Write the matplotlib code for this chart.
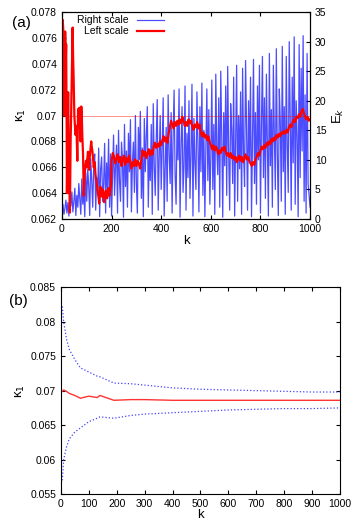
import numpy as np
import matplotlib
matplotlib.use("Agg")
import matplotlib.pyplot as plt

plt.rcParams['font.family'] = ['Liberation Sans', 'DejaVu Sans']

# ---- panel (a) data ----
# E_k (right scale), sampled every 4 steps
Ek_k = np.arange(0, 1001, 4)
Ek = [1.2, 2.5, 0.8, 1.8, 3.2, 1.0, 2.8, 0.5, 3.8, 2.2, 4.6, 1.2, 3.0, 5.2, 0.6, 4.0, 2.0, 6.0, 3.5, 0.8, 6.8, 2.5, 5.0, 0.4, 7.8,
      3.0, 8.5, 5.5, 0.6, 10.2, 6.5, 2.0, 9.0, 11.0, 1.5, 7.0, 4.5, 12.0, 0.4, 8.5, 10.5, 3.0, 6.0, 12.8, 1.0, 9.5, 5.0, 13.5, 2.0, 11.0,
      0.5, 7.5, 14.2, 4.0, 9.0, 12.5, 1.0, 15.0, 6.5, 3.0, 13.0, 10.0, 0.3, 16.0, 5.5, 11.5, 2.0, 14.5, 8.0, 16.8, 1.2, 9.5, 13.0, 4.5, 17.5,
      6.0, 1.0, 15.5, 10.0, 18.2, 3.5, 12.0, 0.4, 17.0, 8.0, 14.0, 19.0, 2.0, 11.0, 6.5, 16.0, 0.8, 19.5, 9.0, 4.0, 13.5, 20.2, 1.5, 10.5, 17.5,
      5.0, 12.0, 20.5, 0.5, 8.5, 15.5, 3.0, 21.0, 11.0, 6.0, 18.0, 1.0, 14.0, 21.8, 7.5, 2.5, 16.5, 10.0, 22.0, 0.3, 12.5, 19.0, 4.5, 9.0, 22.5,
      1.5, 14.5, 7.0, 20.0, 3.5, 11.0, 22.8, 0.5, 17.0, 9.5, 5.0, 21.5, 13.0, 1.2, 19.0, 8.0, 23.0, 4.0, 15.0, 0.4, 12.0, 22.0, 6.5, 18.5, 2.5,
      10.5, 23.5, 5.0, 16.0, 0.8, 24.5, 12.0, 7.5, 20.5, 2.0, 25.0, 14.0, 0.3, 18.0, 9.0, 22.5, 4.0, 25.8, 11.0, 1.5, 19.5, 15.0, 6.0, 24.0, 0.5,
      13.0, 26.0, 3.0, 17.5, 8.5, 21.5, 0.8, 25.5, 11.0, 5.5, 26.8, 15.5, 1.5, 20.0, 9.5, 24.0, 0.4, 13.5, 27.0, 6.0, 18.0, 2.5, 22.5, 10.0, 26.0,
      1.0, 16.0, 27.5, 7.0, 20.5, 3.5, 24.5, 12.0, 0.5, 28.0, 9.0, 18.5, 2.0, 26.0, 14.0, 5.0, 28.8, 11.0, 0.6, 22.0, 16.5, 3.0, 29.2, 8.0, 19.0,
      0.8, 27.5, 12.5, 4.5, 30.0, 17.0, 1.5, 24.0, 9.5, 30.8, 2.5, 20.0, 14.0, 0.4, 29.5, 7.0, 25.5, 11.5, 31.0, 3.0, 21.0, 1.0, 28.0, 6.0, 4.0, 2.0]

# kappa_1 estimate (left scale): early part read point by point, rest every 5 steps
kap_k_early = [0, 3, 5, 7, 8, 10, 12, 13, 15, 17, 19, 20, 22, 25, 27, 28, 30, 32, 34, 35,
               37, 40, 43, 45, 47, 50, 53, 55, 58, 60, 62, 64, 65, 68, 70, 72, 75, 78, 80, 82,
               85, 88, 90, 92, 95, 97, 100, 102, 105, 107, 110, 112, 115, 118, 120, 123, 125, 128, 132, 135,
               138, 142, 145, 148, 150, 153, 155, 158, 160, 163, 165, 168, 170, 174, 178, 182, 185, 188, 192, 195, 198]
kap_early = [0.0700, 0.0774, 0.0768, 0.0745, 0.0760, 0.0700, 0.0720, 0.0765, 0.0740, 0.0755,
             0.0690, 0.0640, 0.0670, 0.0718, 0.0680, 0.0640, 0.0650, 0.0625, 0.0660, 0.0680,
             0.0700, 0.0735, 0.0768, 0.0745, 0.0730, 0.0700, 0.0690, 0.0685, 0.0692, 0.0680,
             0.0665, 0.0690, 0.0705, 0.0700, 0.0706, 0.0695, 0.0680, 0.0707, 0.0700, 0.0685,
             0.0670, 0.0638, 0.0648, 0.0655, 0.0662, 0.0665, 0.0660, 0.0666, 0.0672, 0.0664,
             0.0658, 0.0668, 0.0674, 0.0680, 0.0676, 0.0672, 0.0668, 0.0660, 0.0664, 0.0655,
             0.0650, 0.0645, 0.0640, 0.0636, 0.0632, 0.0641, 0.0645, 0.0638, 0.0642, 0.0637,
             0.0643, 0.0639, 0.0633, 0.0640, 0.0642, 0.0636, 0.0640, 0.0644, 0.0638, 0.0642, 0.0648]
kap_k_late = np.arange(200, 1001, 5)
kap_late = [0.0665, 0.0671, 0.0668, 0.0663, 0.0667, 0.0670, 0.0664, 0.0668, 0.0661, 0.0666,
            0.0669, 0.0662, 0.0667, 0.0664, 0.0669, 0.0665, 0.0659, 0.0664, 0.0661, 0.0666,
            0.0661, 0.0665, 0.0663, 0.0659, 0.0666, 0.0673, 0.0669, 0.0672, 0.0667, 0.0671,
            0.0674, 0.0669, 0.0673, 0.0670, 0.0676, 0.0679, 0.0675, 0.0678, 0.0676, 0.0680,
            0.0677, 0.0681, 0.0684, 0.0680, 0.0683, 0.0679, 0.0686, 0.0691, 0.0696, 0.0693,
            0.0690, 0.0695, 0.0692, 0.0696, 0.0693, 0.0697, 0.0694, 0.0699, 0.0696, 0.0692,
            0.0695, 0.0692, 0.0697, 0.0694, 0.0696, 0.0692, 0.0689, 0.0693, 0.0691, 0.0695,
            0.0690, 0.0693, 0.0686, 0.0684, 0.0687, 0.0683, 0.0685, 0.0681, 0.0684, 0.0680,
            0.0677, 0.0674, 0.0677, 0.0673, 0.0676, 0.0674, 0.0670, 0.0673, 0.0671, 0.0675,
            0.0673, 0.0676, 0.0672, 0.0669, 0.0671, 0.0668, 0.0671, 0.0667, 0.0669, 0.0666,
            0.0668, 0.0664, 0.0667, 0.0669, 0.0665, 0.0668, 0.0664, 0.0667, 0.0670, 0.0666,
            0.0668, 0.0665, 0.0663, 0.0661, 0.0664, 0.0662, 0.0666, 0.0668, 0.0671, 0.0669,
            0.0673, 0.0676, 0.0674, 0.0677, 0.0675, 0.0679, 0.0677, 0.0680, 0.0678, 0.0682,
            0.0680, 0.0683, 0.0681, 0.0685, 0.0683, 0.0686, 0.0684, 0.0687, 0.0686, 0.0688,
            0.0686, 0.0689, 0.0687, 0.0691, 0.0693, 0.0691, 0.0695, 0.0697, 0.0695, 0.0699,
            0.0698, 0.0701, 0.0699, 0.0703, 0.0705, 0.0702, 0.0699, 0.0697, 0.0699, 0.0696, 0.0697]
kap_true = 0.07

# ---- panel (b) data ----
b_k = [5, 10, 20, 30, 50, 70, 100, 130, 140, 190, 250, 300, 400, 500, 600, 700, 800, 900, 1000]
b_upper = [0.0822, 0.0800, 0.0775, 0.0760, 0.0745, 0.0733, 0.0727, 0.0721, 0.0720, 0.0711, 0.0710, 0.0708,
           0.0704, 0.0702, 0.0701, 0.0700, 0.0699, 0.0698, 0.0698]
b_lower = [0.0570, 0.0600, 0.0618, 0.0630, 0.0640, 0.0646, 0.0655, 0.0660, 0.0662, 0.0660, 0.0664, 0.0666,
           0.0668, 0.0670, 0.0672, 0.0673, 0.0674, 0.0674, 0.0675]
b_mean = [0.0699, 0.0701, 0.0699, 0.0696, 0.0693, 0.0689, 0.0692, 0.0690, 0.0693, 0.0686, 0.0687, 0.0687,
          0.0686, 0.0686, 0.0686, 0.0686, 0.0686, 0.0686, 0.0686]

fig = plt.figure(figsize=(3.56, 5.24), dpi=100)

# (a)
ax1 = fig.add_axes([0.174, 0.582, 0.697, 0.395])
ax2 = ax1.twinx()
l_blue, = ax2.plot(Ek_k, Ek, color='#0000ff', lw=0.9, alpha=0.7)
ax2.set_ylim(0, 35)
ax2.set_yticks(np.arange(0, 36, 5))
kap_k = np.concatenate([kap_k_early, kap_k_late])
kap = np.concatenate([kap_early, kap_late])
l_red, = ax1.plot(kap_k, kap, color='#ff0000', lw=1.6)
ax1.axhline(kap_true, color='#ff0000', lw=0.6, alpha=0.5)
ax1.set_zorder(ax2.get_zorder() + 1)
ax1.patch.set_visible(False)
ax1.set_xlim(0, 1000)
ax1.set_ylim(0.062, 0.078)
ax1.set_xticks(np.arange(0, 1001, 200))
yt1 = np.round(np.arange(0.062, 0.0781, 0.002), 3)
ax1.set_yticks(yt1)
ax1.set_yticklabels(['%g' % v for v in yt1])
ax1.tick_params(direction='in', top=True, labelsize=7.5, length=3)
ax2.tick_params(direction='in', labelsize=7.5, length=3)
ax1.set_xlabel('k', fontsize=9.5, labelpad=1)
ax1.set_ylabel('κ$_1$', fontsize=9.5, labelpad=2)
ax2.set_ylabel('E$_k$', fontsize=9.5, labelpad=3)
ax1.legend([l_blue, l_red], ['Right scale', 'Left scale'], loc='upper right',
           bbox_to_anchor=(0.44, 1.02), frameon=False, markerfirst=False,
           fontsize=7.5, handlelength=2.6, labelspacing=0.1, borderpad=0.2)
fig.text(0.035, 0.956, '(a)', fontsize=11, va='center')

# (b)
ax3 = fig.add_axes([0.171, 0.057, 0.784, 0.395])
ax3.plot(b_k, b_upper, color='#4444ff', lw=0.9, ls=':')
ax3.plot(b_k, b_lower, color='#4444ff', lw=0.9, ls=':')
ax3.plot(b_k, b_mean, color='#ff3333', lw=1.0)
ax3.set_xlim(0, 1000)
ax3.set_ylim(0.055, 0.085)
ax3.set_xticks(np.arange(0, 1001, 100))
yt = np.round(np.arange(0.055, 0.0851, 0.005), 3)
ax3.set_yticks(yt)
ax3.set_yticklabels(['%g' % v for v in yt])
ax3.tick_params(direction='in', top=True, right=True, labelsize=7.5, length=3)
ax3.set_xlabel('k', fontsize=9.5, labelpad=0)
ax3.set_ylabel('κ$_1$', fontsize=9.5, labelpad=2)
fig.text(0.025, 0.425, '(b)', fontsize=11, va='center')

fig.savefig('out.png', dpi=100)
